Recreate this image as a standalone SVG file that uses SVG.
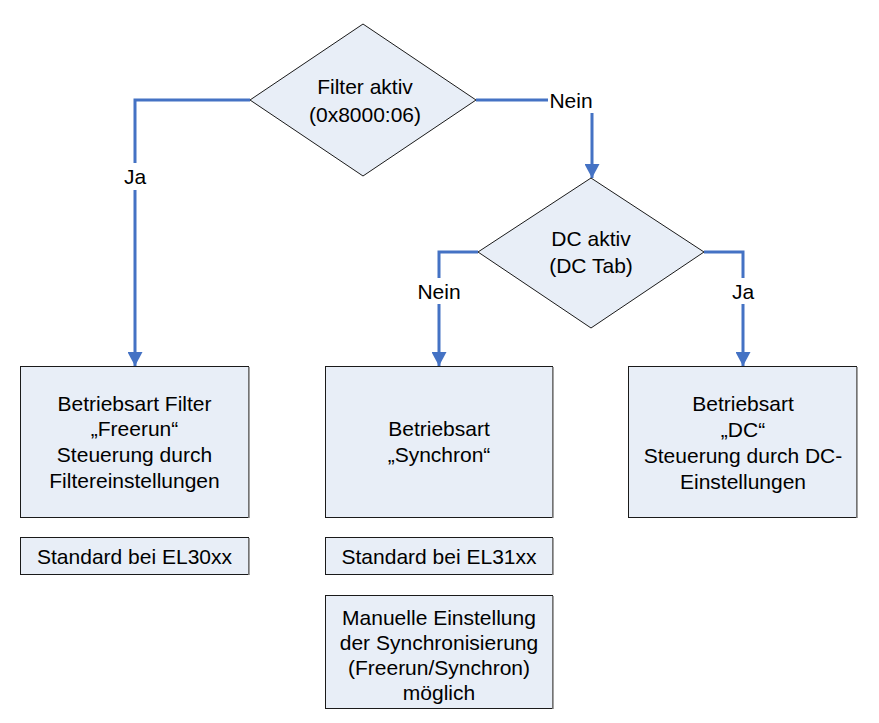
<svg xmlns="http://www.w3.org/2000/svg" width="879" height="723" viewBox="0 0 879 723">
<defs>
<style>
.shape{fill:#E8EEF7;stroke:#1a1a1a;stroke-width:1}
.shadow{stroke:#8a8a8a;stroke-width:1.6;fill:none}
.t{font-family:"Liberation Sans",Arial,sans-serif;font-size:21px;fill:#000;text-anchor:middle}
.conn{fill:none;stroke:#4472C4;stroke-width:3}
.lblbg{fill:#fff}
</style>
<marker id="arr" markerUnits="userSpaceOnUse" markerWidth="15" markerHeight="15" refX="14" refY="7.5" orient="auto">
<path d="M0,0 L14,7.5 L0,15 z" fill="#4472C4"/>
</marker>
</defs>
<rect width="879" height="723" fill="#fff"/>

<g id="connectors">
<path class="conn" d="M250,100 H135 V366" marker-end="url(#arr)"/>
<path class="conn" d="M476,100 H592 V178" marker-end="url(#arr)"/>
<path class="conn" d="M478,252 H439 V366" marker-end="url(#arr)"/>
<path class="conn" d="M704,252 H743 V366" marker-end="url(#arr)"/>
<rect class="lblbg" x="120" y="163" width="30" height="27"/>
<text class="t" x="135" y="184">Ja</text>
<rect class="lblbg" x="548" y="88" width="47" height="25"/>
<text class="t" x="571" y="107.5">Nein</text>
<rect class="lblbg" x="416" y="278" width="47" height="26"/>
<text class="t" x="439" y="298.5">Nein</text>
<rect class="lblbg" x="728" y="278" width="30" height="26"/>
<text class="t" x="743" y="298.5">Ja</text>
</g>

<g id="filter-aktiv">
<path class="shape" d="M363,24 L476,100 L363,176 L250,100 z"/>
<text class="t" x="365" y="94">Filter aktiv</text>
<text class="t" x="365" y="121.5">(0x8000:06)</text>
</g>

<g id="dc-aktiv">
<path class="shape" d="M591,178 L704,252 L591,328 L478,252 z"/>
<text class="t" x="591" y="245.5">DC aktiv</text>
<text class="t" x="591" y="273">(DC Tab)</text>
</g>

<g id="box-filter">
<rect class="shape" x="20.5" y="366.5" width="228" height="151"/>
<line class="shadow" x1="249" y1="367" x2="249" y2="518"/>
<text class="t" x="134.5" y="410.5">Betriebsart Filter</text>
<text class="t" x="134.5" y="436">„Freerun“</text>
<text class="t" x="134.5" y="462">Steuerung durch</text>
<text class="t" x="134.5" y="487.5">Filtereinstellungen</text>
</g>

<g id="box-el30xx">
<rect class="shape" x="20.5" y="537.5" width="228" height="37"/>
<line class="shadow" x1="249" y1="538" x2="249" y2="575"/>
<text class="t" x="134.5" y="563.5">Standard bei EL30xx</text>
</g>

<g id="box-synchron">
<rect class="shape" x="325.5" y="366.5" width="227" height="151"/>
<line class="shadow" x1="553" y1="367" x2="553" y2="518"/>
<text class="t" x="439" y="435.5">Betriebsart</text>
<text class="t" x="439" y="461.5">„Synchron“</text>
</g>

<g id="box-el31xx">
<rect class="shape" x="325.5" y="537.5" width="227" height="37"/>
<line class="shadow" x1="553" y1="538" x2="553" y2="575"/>
<text class="t" x="439" y="563.5">Standard bei EL31xx</text>
</g>

<g id="box-manuell">
<rect class="shape" x="325.5" y="595.5" width="227" height="113"/>
<line class="shadow" x1="553" y1="596" x2="553" y2="709"/>
<text class="t" x="439" y="624.5">Manuelle Einstellung</text>
<text class="t" x="439" y="649.5">der Synchronisierung</text>
<text class="t" x="439" y="674.5">(Freerun/Synchron)</text>
<text class="t" x="439" y="699.5">möglich</text>
</g>

<g id="box-dc">
<rect class="shape" x="628.5" y="366.5" width="228" height="151"/>
<line class="shadow" x1="857" y1="367" x2="857" y2="518"/>
<text class="t" x="743" y="411">Betriebsart</text>
<text class="t" x="743" y="437">„DC“</text>
<text class="t" x="743" y="463">Steuerung durch DC-</text>
<text class="t" x="743" y="488.5">Einstellungen</text>
</g>
</svg>
